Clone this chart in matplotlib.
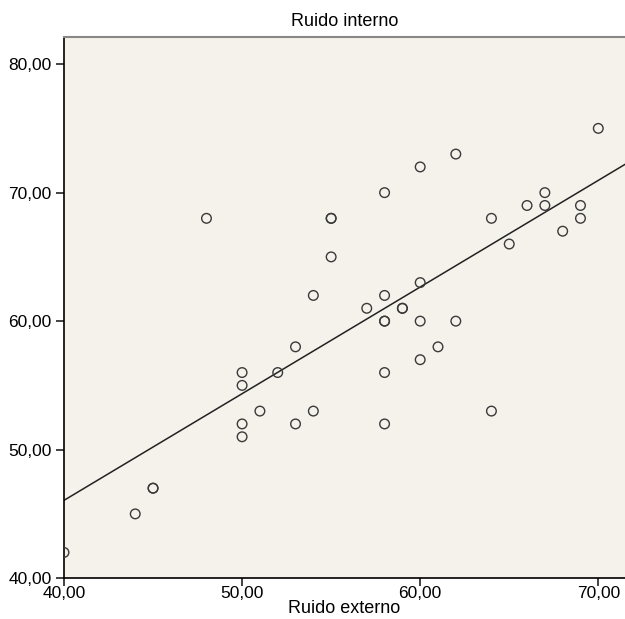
import matplotlib
matplotlib.use("Agg")
import matplotlib.pyplot as plt
import numpy as np

plt.rcParams['font.family'] = ['Liberation Sans', 'DejaVu Sans']

ruido_externo = [40, 44, 45, 45, 48, 50, 50, 50, 50, 51, 52, 53, 53, 54, 54, 55, 55, 55,
                 57, 58, 58, 58, 58, 58, 58, 59, 59, 60, 60, 60, 60, 61, 62, 62, 64, 64,
                 65, 66, 67, 67, 68, 69, 69, 70]
ruido_interno = [42, 45, 47, 47, 68, 56, 55, 52, 51, 53, 56, 58, 52, 62, 53, 68, 68, 65,
                 61, 70, 62, 60, 60, 56, 52, 61, 61, 72, 63, 60, 57, 58, 73, 60, 68, 53,
                 66, 69, 70, 69, 67, 69, 68, 75]
xticks = [40, 50, 60, 70]
yticks = [40, 50, 60, 70, 80]

x = np.array(ruido_externo, dtype=float)
y = np.array(ruido_interno, dtype=float)
slope, intercept = np.polyfit(x, y, 1)

fig = plt.figure(figsize=(6.25, 6.19), dpi=100, facecolor='white')
ax = fig.add_axes([0.1024, 0.066, 0.8976, 0.874])
ax.set_facecolor('#f5f2ec')

xmin, xmax = 40, 71.5
ymin, ymax = 40, 82.1
xx = np.array([xmin, xmax])
ax.plot(xx, slope * xx + intercept, color='#222222', lw=1.1, zorder=2)
ax.scatter(x, y, s=48, facecolors='none', edgecolors='#3a3a3a', linewidths=1.0,
           zorder=3, clip_on=True)

ax.set_xlim(xmin, xmax)
ax.set_ylim(ymin, ymax)
ax.set_xticks(xticks)
ax.set_yticks(yticks)
ax.set_xticklabels([f"{t:.2f}".replace('.', ',') for t in xticks], fontsize=12.5)
ax.set_yticklabels([f"{t:.2f}".replace('.', ',') for t in yticks], fontsize=12.5)
ax.tick_params(axis='y', direction='out', length=6, width=1.2, color='#222222', pad=3)
ax.tick_params(axis='x', direction='out', length=6, width=1.2, color='#222222', pad=0)

ax.spines['right'].set_visible(False)
ax.spines['top'].set_color('#888888')
ax.spines['top'].set_linewidth(1.5)
ax.spines['left'].set_linewidth(1.2)
ax.spines['bottom'].set_linewidth(1.2)

ax.set_title("Ruido interno", fontsize=13, pad=8)
ax.set_xlabel("Ruido externo", fontsize=13, labelpad=-1)

fig.savefig("out.png", dpi=100)
